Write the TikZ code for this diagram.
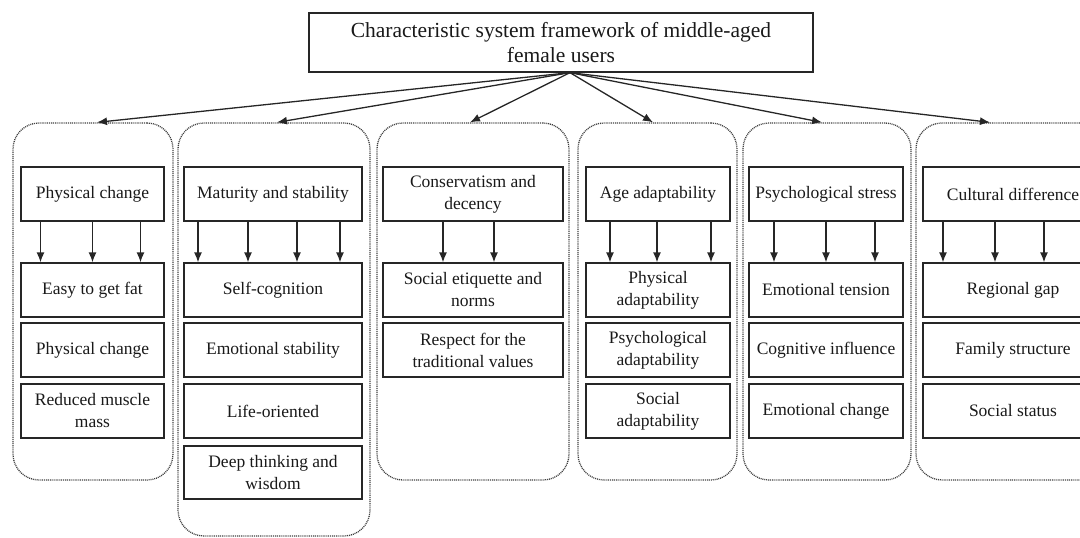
\documentclass[tikz,border=0pt]{standalone}
\usepackage{fontspec}
\setmainfont{Liberation Serif}
\usetikzlibrary{arrows.meta}
\newcommand\bx[7][]{\pgfmathsetmacro\bw{#5-#3}\pgfmathsetmacro\bh{#6-#4}%
  \node[box, minimum width=\bw pt, minimum height=\bh pt, #1] (#2) at ({(#3+#5)/2},{(#4+#6)/2}) {#7};}
\newcommand\ct[5]{\pgfmathsetmacro\bw{#4-#2}\pgfmathsetmacro\bh{#5-#3}%
  \node[cont, minimum width=\bw pt, minimum height=\bh pt] (#1) at ({(#2+#4)/2},{(#3+#5)/2}) {};}
\tikzset{
  box/.style={draw=black!85, line width=1.3pt, inner sep=0pt, align=center, text=black!90},
  cont/.style={draw=black!75, dash pattern=on 1pt off 0.9pt, line width=1.3pt, rounded corners=26pt, inner sep=0pt},
  arr/.style={draw=black!85, line width=1.3pt, -{Latex[length=10pt,width=8pt]}},
  titlefont/.style={font=\fontsize{21.5}{25.5}\selectfont},
}
\begin{document}
\begin{tikzpicture}[x=1pt,y=-1pt, font=\fontsize{17.5}{22}\selectfont]
\useasboundingbox (0,0) rectangle (1080,538);
\clip (0,0) rectangle (1080,538);
% title
\bx[titlefont]{title}{309}{13}{813}{72}{Characteristic system framework of middle-aged\\female users}
% containers
\ct{c1}{13}{123}{173}{480}
\ct{c2}{178}{123}{370}{536}
\ct{c3}{377}{123}{569}{480}
\ct{c4}{578}{123}{737}{480}
\ct{c5}{743}{123}{911}{480}
\ct{c6}{916}{123}{1110}{480}
% headers
\bx{h1}{21}{167}{164}{221}{Physical change}
\bx{h2}{184}{167}{362}{221}{Maturity and stability}
\bx{h3}{383}{167}{563}{221}{Conservatism and\\decency}
\bx{h4}{586}{167}{730}{221}{Age adaptability}
\bx{h5}{749}{167}{903}{221}{Psychological stress}
\bx{h6}{923}{167}{1103}{221}{Cultural difference}
% children column 1
\bx{a1}{21}{263}{164}{317}{Easy to get fat}
\bx{a2}{21}{323}{164}{377}{Physical change}
\bx{a3}{21}{384}{164}{438}{Reduced muscle\\mass}
% column 2
\bx{b1}{184}{263}{362}{317}{Self-cognition}
\bx{b2}{184}{323}{362}{377}{Emotional stability}
\bx{b3}{184}{384}{362}{438}{Life-oriented}
\bx{b4}{184}{446}{362}{499}{Deep thinking and\\wisdom}
% column 3
\bx{d1}{383}{263}{563}{317}{Social etiquette and\\norms}
\bx{d2}{383}{323}{563}{377}{Respect for the\\traditional values}
% column 4
\bx{e1}{586}{263}{730}{317}{Physical\\adaptability}
\bx{e2}{586}{323}{730}{377}{Psychological\\adaptability}
\bx{e3}{586}{384}{730}{438}{Social\\adaptability}
% column 5
\bx{f1}{749}{263}{903}{317}{Emotional tension}
\bx{f2}{749}{323}{903}{377}{Cognitive influence}
\bx{f3}{749}{384}{903}{438}{Emotional change}
% column 6
\bx{g1}{923}{263}{1103}{317}{Regional gap}
\bx{g2}{923}{323}{1103}{377}{Family structure}
\bx{g3}{923}{384}{1103}{438}{Social status}
% arrows from title
\coordinate (o) at ([xshift=9pt]title.south);
\draw[arr] (o) -- ([xshift=4pt]c1.north);
\draw[arr] (o) -- ([xshift=3pt]c2.north);
\draw[arr] (o) -- ([xshift=-3pt]c3.north);
\draw[arr] (o) -- ([xshift=-4.5pt]c4.north);
\draw[arr] (o) -- ([xshift=-5pt]c5.north);
\draw[arr] (o) -- ([xshift=-23pt]c6.north);
% arrows header -> children
\foreach \d in {-52,0,48} \draw[arr] ([xshift=\d pt]h1.south) -- ([xshift=\d pt]a1.north);
\foreach \d in {-75,-25,24,67} \draw[arr] ([xshift=\d pt]h2.south) -- ([xshift=\d pt]b1.north);
\foreach \d in {-30,21} \draw[arr] ([xshift=\d pt]h3.south) -- ([xshift=\d pt]d1.north);
\foreach \d in {-48,-1,53} \draw[arr] ([xshift=\d pt]h4.south) -- ([xshift=\d pt]e1.north);
\foreach \d in {-52,0,49} \draw[arr] ([xshift=\d pt]h5.south) -- ([xshift=\d pt]f1.north);
\foreach \d in {-70,-18,31} \draw[arr] ([xshift=\d pt]h6.south) -- ([xshift=\d pt]g1.north);
\end{tikzpicture}
\end{document}
